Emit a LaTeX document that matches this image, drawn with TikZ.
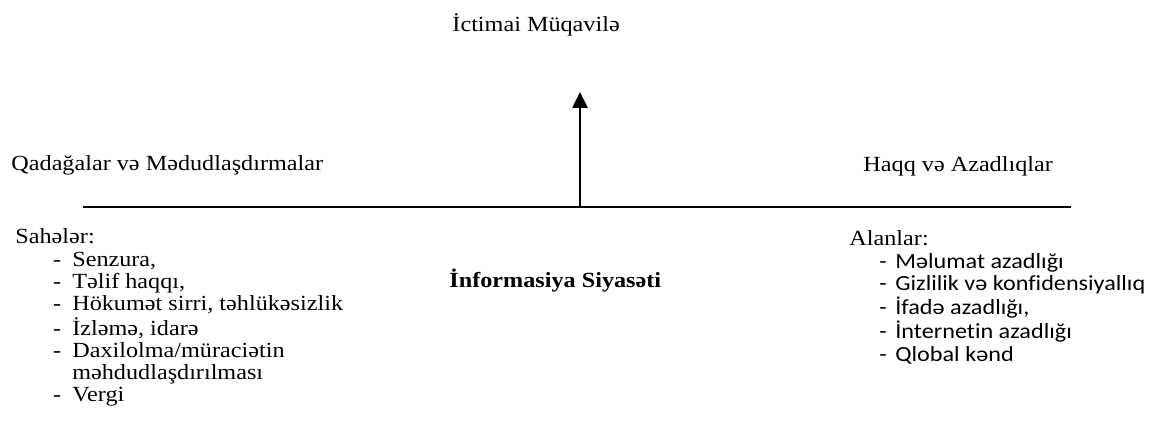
\documentclass[tikz,border=0pt]{standalone}
\usepackage{fontspec}
\setmainfont{Liberation Serif}
\newfontfamily\calfont[Ligatures=NoCommon]{Carlito}
\usetikzlibrary{arrows.meta}
\tikzset{
  txt/.style={anchor=base west, inner sep=0pt, xscale=1.12, transform shape,
    font=\fontsize{10.8}{11.1}\selectfont},
  axis/.style={line width=1.35pt},
  up/.style={line width=1.3pt, -{Triangle[width=7.5pt,length=8pt]}}
}
\begin{document}
\begin{tikzpicture}[x=0.5pt, y=-0.5pt]
\useasboundingbox (0,0) rectangle (1150,442);
\coordinate (L) at (83,207);
\coordinate (R) at (1071,207);
\coordinate (base) at (580,207);
\coordinate (tip) at (580,92);
\draw[axis] (L) -- (R);
\draw[up] (base) -- (tip);
\node[txt] (title) at (452,32) {İctimai Müqavilə};
\node[txt] (left) at (11,171) {Qadağalar və Mədudlaşdırmalar};
\node[txt] (right) at (863,172) {Haqq və Azadlıqlar};
\node[txt, font=\fontsize{10.8}{11.1}\selectfont\bfseries] (center) at (449,288) {İnformasiya Siyasəti};
\node[txt] (sahe) at (15,244) {\renewcommand\arraystretch{1}%
\begin{tabular}[t]{@{\hspace{16.8pt}}l@{\hspace{5pt}}l@{}}
\multicolumn{2}{@{}l}{Sahələr:}\\
- & Senzura,\\
- & Təlif haqqı,\\
- & Hökumət sirri, təhlükəsizlik\\
- & İzləmə, idarə\\
- & Daxilolma/müraciətin\\
 & məhdudlaşdırılması\\
- & Vergi
\end{tabular}};
\node[txt] (alan) at (849,246) {\renewcommand\arraystretch{1}%
\begin{tabular}[t]{@{\hspace{13.3pt}}l@{\hspace{3.9pt}}l@{}}
\multicolumn{2}{@{}l}{Alanlar:}\\
\calfont - & \calfont Məlumat azadlığı\\
\calfont - & \calfont Gizlilik və konfidensiyallıq\\
\calfont - & \calfont İfadə azadlığı,\\
\calfont - & \calfont İnternetin azadlığı\\
\calfont - & \calfont Qlobal kənd
\end{tabular}};
\end{tikzpicture}
\end{document}
